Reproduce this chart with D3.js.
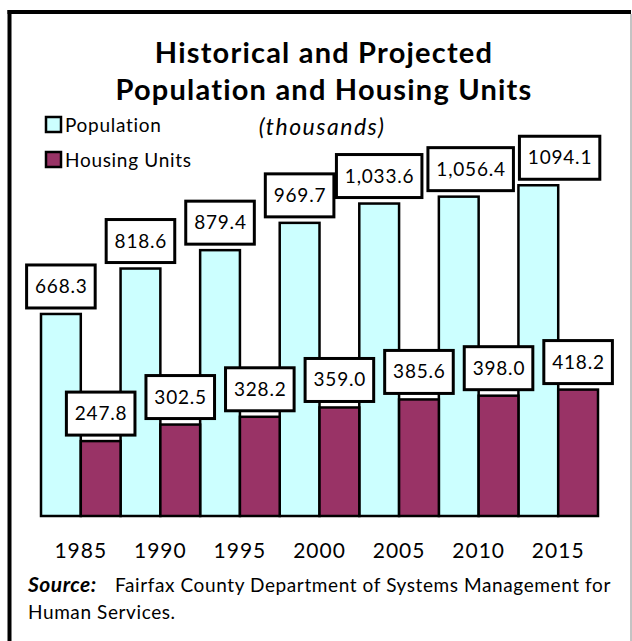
<!DOCTYPE html>
<html>
<head>
<meta charset="utf-8">
<script src="https://cdn.jsdelivr.net/npm/d3@7"></script>
<style>
  html, body { margin: 0; padding: 0; background: #fff; }
  svg { display: block; }
</style>
</head>
<body>
<svg id="chart" width="632" height="641"></svg>
<script>
// ---- data ----
const years = ["1985", "1990", "1995", "2000", "2005", "2010", "2015"];
const population = [668.3, 818.6, 879.4, 969.7, 1033.6, 1056.4, 1094.1];
const housing = [247.8, 302.5, 328.2, 359.0, 385.6, 398.0, 418.2];
const populationLabels = ["668.3", "818.6", "879.4", "969.7", "1,033.6", "1,056.4", "1094.1"];
const housingLabels = ["247.8", "302.5", "328.2", "359.0", "385.6", "398.0", "418.2"];
const seriesNames = ["Population", "Housing Units"];
const seriesColors = ["#CCFFFF", "#993366"];

// ---- layout ----
const svg = d3.select("#chart");
const W = 632, H = 641;
const baseY = 516;
const font = "Lato, 'Open Sans', sans-serif";

// frame
svg.append("line").attr("x1", 9.5).attr("x2", 9.5).attr("y1", 10).attr("y2", H)
  .attr("stroke", "#000").attr("stroke-width", 4);
svg.append("line").attr("x1", 7.5).attr("x2", 631).attr("y1", 12).attr("y2", 12)
  .attr("stroke", "#000").attr("stroke-width", 4);
svg.append("line").attr("x1", 631).attr("x2", 631).attr("y1", 14).attr("y2", H)
  .attr("stroke", "#888").attr("stroke-width", 1);

// title
const title = svg.append("text").attr("text-anchor", "middle")
  .attr("font-family", font).attr("font-weight", "bold").attr("font-size", 29)
  .attr("letter-spacing", 1.2).attr("fill", "#000");
title.append("tspan").attr("x", 324).attr("y", 63).text("Historical and Projected");
title.append("tspan").attr("x", 324).attr("y", 100).text("Population and Housing Units");

svg.append("text").attr("x", 322).attr("y", 135).attr("text-anchor", "middle")
  .attr("font-family", font).attr("font-style", "italic").attr("font-size", 23)
  .attr("letter-spacing", 1.5).text("(thousands)");

// legend
const legend = svg.append("g");
seriesNames.forEach((name, i) => {
  const gy = 117 + i * 35;
  legend.append("rect").attr("x", 46).attr("y", gy).attr("width", 15).attr("height", 15)
    .attr("fill", seriesColors[i]).attr("stroke", "#000").attr("stroke-width", 2.5);
  legend.append("text").attr("x", 65).attr("y", gy + 15).attr("font-family", font)
    .attr("font-size", 19).attr("letter-spacing", 0.7).text(name);
});

// scales
const x = d3.scaleBand().domain(years).range([41, 598]).padding(0);
const xs = d3.scaleBand().domain(seriesNames).range([0, x.bandwidth()]).padding(0);
const y = d3.scaleLinear().domain([0, 1000]).range([baseY, baseY - 302.3]);

const series = [
  { name: seriesNames[0], values: population, labels: populationLabels, color: seriesColors[0] },
  { name: seriesNames[1], values: housing, labels: housingLabels, color: seriesColors[1] }
];

// bars
const gBars = svg.append("g");
series.forEach(s => {
  gBars.selectAll(null).data(years).enter().append("rect")
    .attr("x", d => x(d) + xs(s.name))
    .attr("width", xs.bandwidth())
    .attr("y", (d, i) => y(s.values[i]))
    .attr("height", (d, i) => baseY - y(s.values[i]))
    .attr("fill", s.color)
    .attr("stroke", "#000")
    .attr("stroke-width", 2.5);
});

// labels (boxes drawn above all bars), shifted right when they would collide
const gLab = svg.append("g");
const boxH = 43;
series.forEach(s => {
  let prev = null;
  years.forEach((yr, i) => {
    const cx = x(yr) + xs(s.name) + xs.bandwidth() / 2;
    const bottom = y(s.values[i]) - 6;
    const g = gLab.append("g");
    const rect = g.append("rect").attr("fill", "#fff").attr("stroke", "#000").attr("stroke-width", 3);
    const t = g.append("text").attr("y", bottom - 15)
      .attr("text-anchor", "middle").attr("font-family", font).attr("font-size", 19)
      .attr("letter-spacing", 0.8).attr("fill", "#000").text(s.labels[i]);
    const tw = t.node().getComputedTextLength();
    const bw = tw + 16;
    let left = cx - bw / 2;
    const top = bottom - boxH;
    if (prev && top < prev.bottom && bottom > prev.top && left < prev.right + 1) {
      left = prev.right + 6;
    }
    rect.attr("x", left).attr("y", top).attr("width", bw).attr("height", boxH);
    t.attr("x", left + bw / 2 + 0.4);
    prev = { right: left + bw, top: top, bottom: bottom };
  });
});

// x axis labels
const xAxis = d3.axisBottom(x).tickSize(0).tickPadding(0);
const gx = svg.append("g").attr("transform", `translate(0, 542)`).call(xAxis);
gx.select(".domain").remove();
gx.selectAll("text").attr("font-family", font).attr("font-size", 21)
  .attr("letter-spacing", 1).attr("fill", "#000").attr("dy", "0.71em").attr("y", 1);

// source
const src = svg.append("text").attr("x", 28).attr("y", 592).attr("font-family", font)
  .attr("font-size", 19).attr("fill", "#000");
src.append("tspan").attr("font-weight", "bold").attr("font-style", "italic").attr("font-size", 21)
  .attr("letter-spacing", 0.5).text("Source:");
src.append("tspan").attr("x", 115).attr("letter-spacing", 0.6).text("Fairfax County Department of Systems Management for");
svg.append("text").attr("x", 28).attr("y", 619).attr("font-family", font)
  .attr("font-size", 19).attr("letter-spacing", 0.6).text("Human Services.");
</script>
</body>
</html>
